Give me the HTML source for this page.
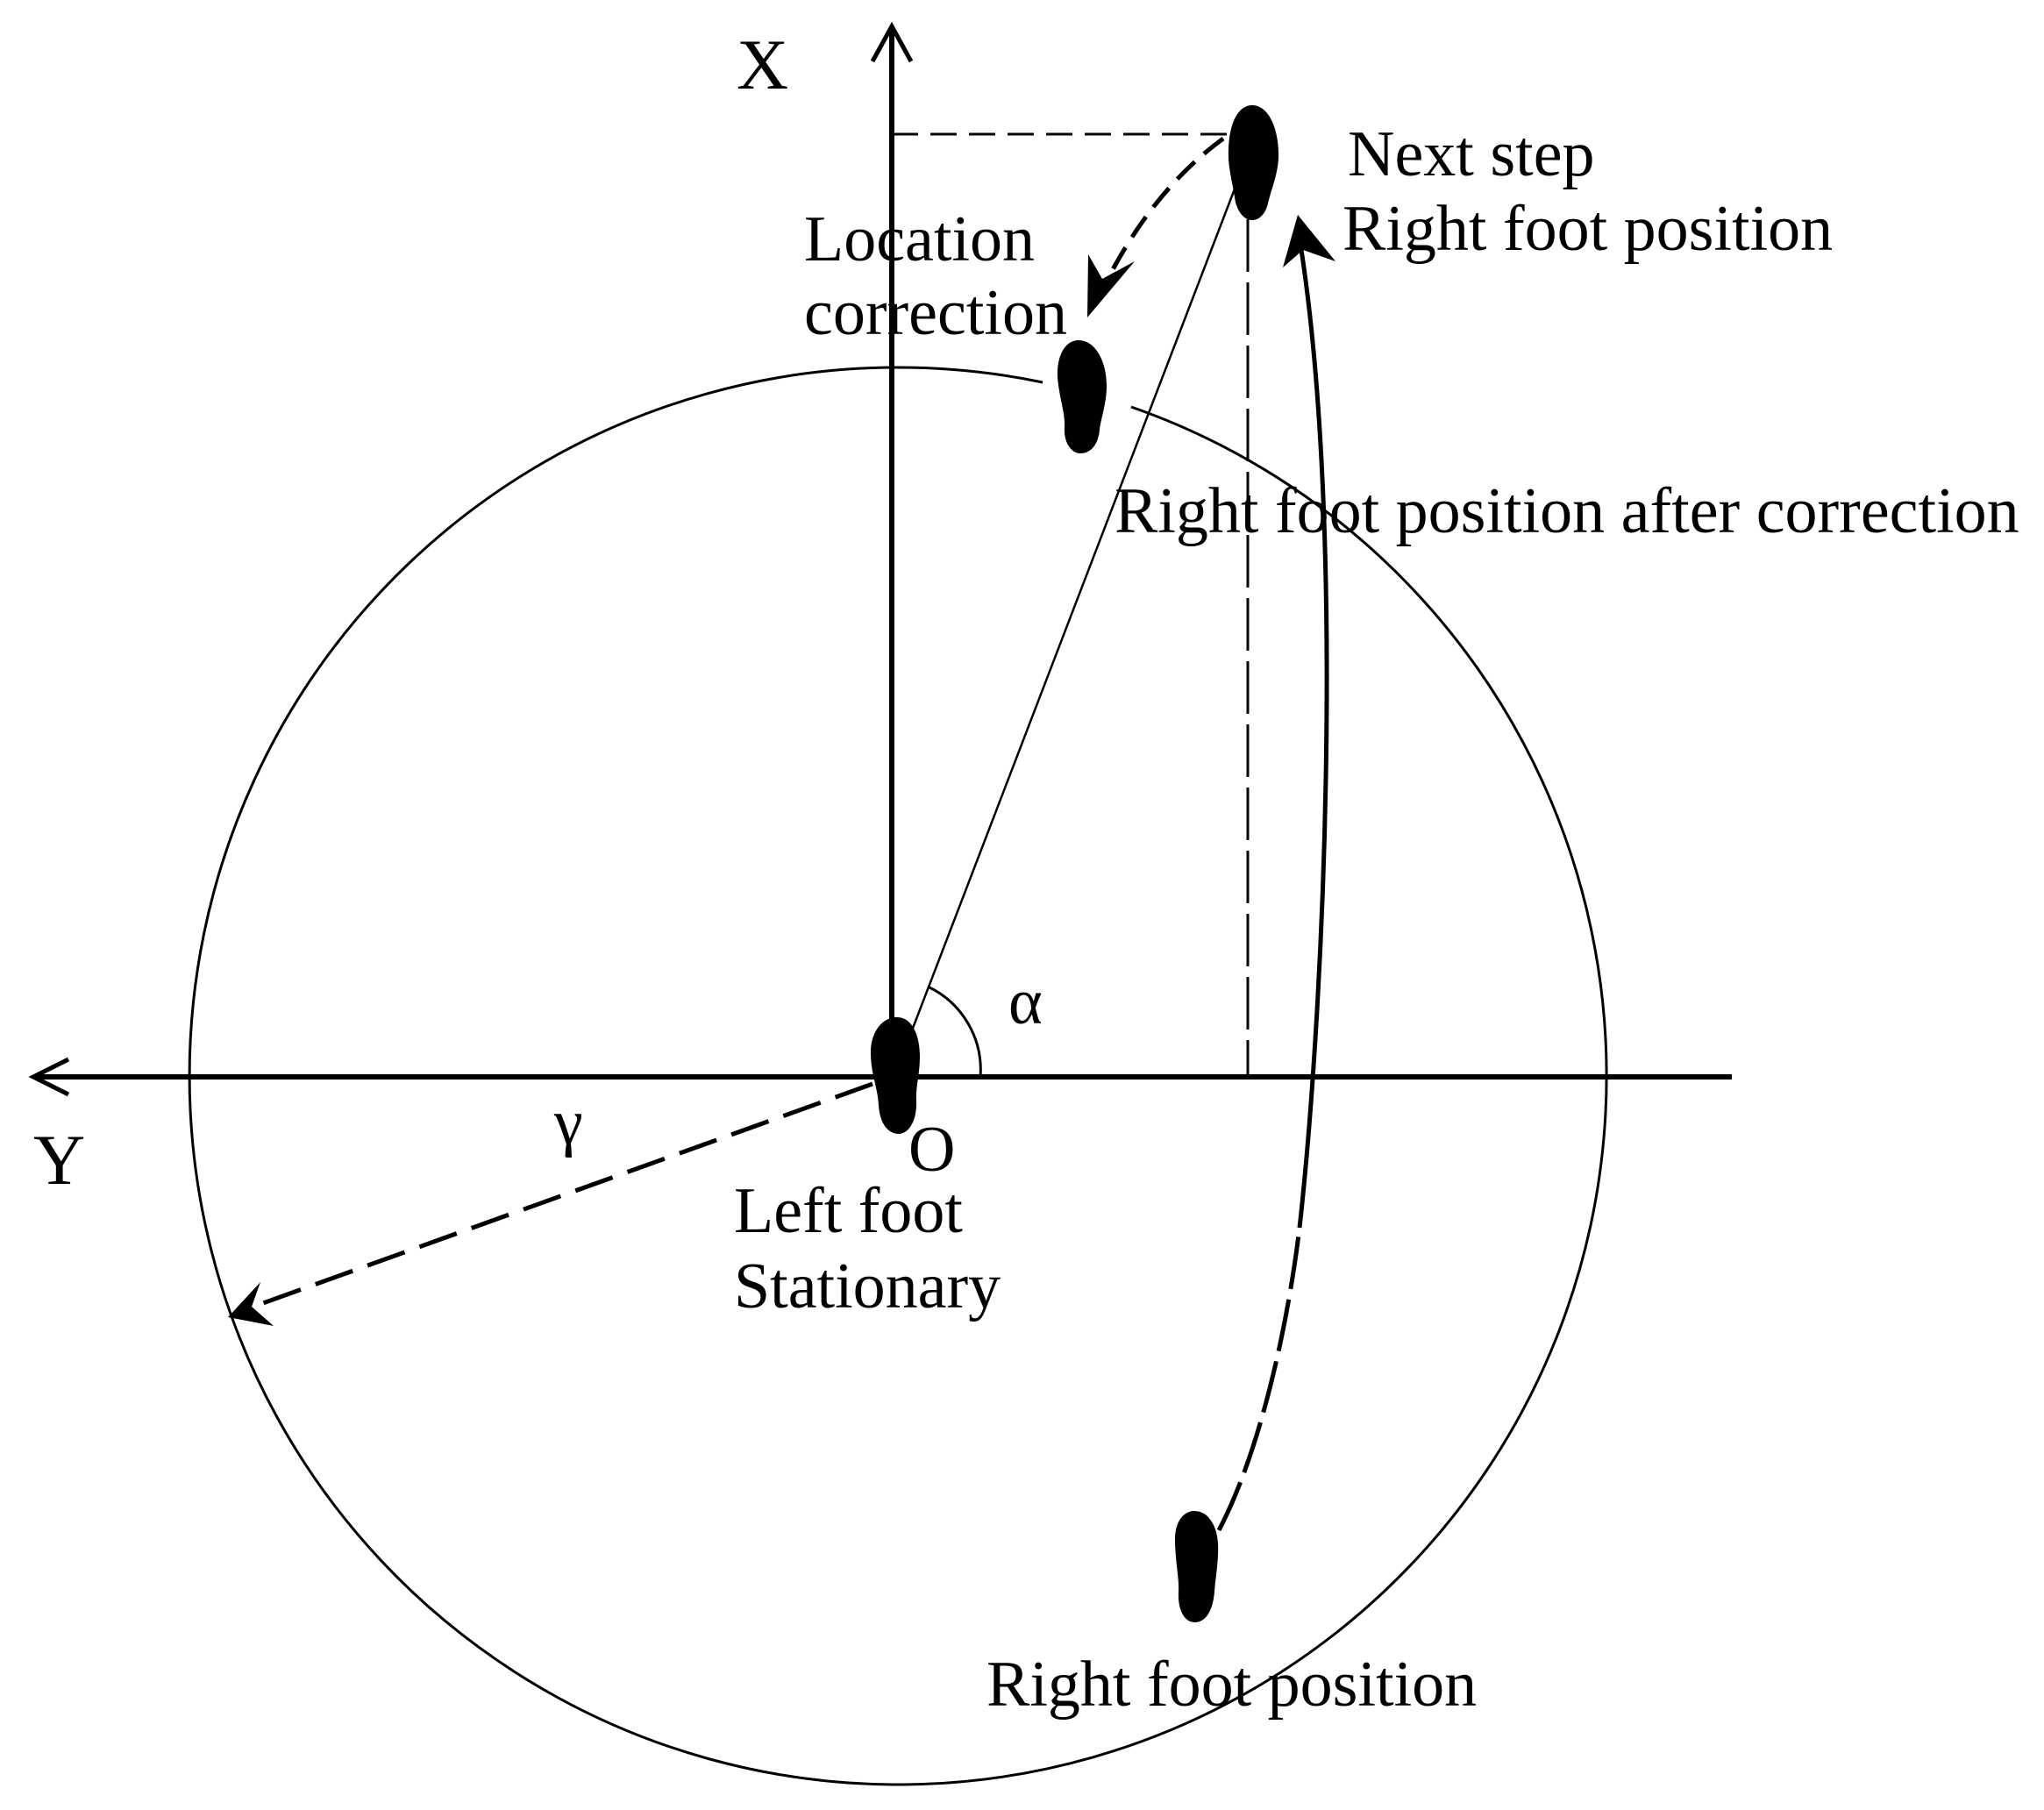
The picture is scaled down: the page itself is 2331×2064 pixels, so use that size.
<!DOCTYPE html>
<html><head><meta charset="utf-8"><style>
html,body{margin:0;padding:0;background:#fff;}
svg{display:block;}
text{font-family:"Liberation Serif",serif;fill:#000;font-size:74px;}
</style></head><body>
<svg width="2331" height="2064" viewBox="0 0 2331 2064" xmlns="http://www.w3.org/2000/svg">
<!-- circle with gap at top -->
<path d="M1189,436 A808,808 0 1 0 1290,464" fill="none" stroke="#000" stroke-width="3"/>
<!-- axes -->
<line x1="1017" y1="34" x2="1017" y2="1228" stroke="#000" stroke-width="6"/>
<polyline points="995,70 1017,30 1039,70" fill="none" stroke="#000" stroke-width="5"/>
<line x1="38" y1="1228" x2="1975" y2="1228" stroke="#000" stroke-width="6"/>
<polyline points="78,1208 38,1228 78,1248" fill="none" stroke="#000" stroke-width="5"/>
<!-- dashed projections -->
<line x1="1017" y1="153" x2="1405" y2="153" stroke="#000" stroke-width="3" stroke-dasharray="30,14"/>
<line x1="1423" y1="250" x2="1423" y2="1228" stroke="#000" stroke-width="3" stroke-dasharray="60,12"/>
<!-- thin line O to next step -->
<line x1="1040" y1="1175" x2="1412" y2="205" stroke="#000" stroke-width="2.5"/>
<!-- alpha arc -->
<path d="M1058,1125 A105,105 0 0 1 1118,1228" fill="none" stroke="#000" stroke-width="3"/>
<!-- location correction dashed curve -->
<path d="M1395,158 Q1310,220 1255,335" fill="none" stroke="#000" stroke-width="5" stroke-dasharray="28,14"/>
<polygon points="1240,362 1241,290 1257,318 1294,298" fill="#000"/>
<!-- big curved arrow -->
<path d="M1390,1745 C1440,1650 1470,1500 1482,1400" fill="none" stroke="#000" stroke-width="5" stroke-dasharray="60,12"/>
<path d="M1482,1400 C1510,1150 1535,600 1482,272" fill="none" stroke="#000" stroke-width="5"/>
<polygon points="1480,245 1463,305 1486,285 1523,298" fill="#000"/>
<!-- gamma dashed arrow -->
<line x1="995" y1="1236" x2="275" y2="1495" stroke="#000" stroke-width="5" stroke-dasharray="45,18"/>
<polygon points="260,1502 297,1462 287,1490 312,1512" fill="#000"/>
<!-- feet -->
<g fill="#000">
<path d="M1428,120 C1448,120 1459,150 1458,180 C1457,200 1450,215 1446,232 C1442,248 1433,251 1428,251 C1418,251 1410,240 1408,225 C1405,205 1400,190 1401,170 C1402,140 1412,120 1428,120Z"/>
<path d="M1230,388 C1248,388 1262,410 1262,440 C1262,460 1256,475 1254,490 C1252,510 1242,517 1232,517 C1222,517 1213,505 1214,488 C1215,470 1208,455 1206,430 C1205,405 1215,388 1230,388Z"/>
<path d="M1023,1160 C1040,1160 1049,1180 1049,1205 C1049,1225 1044,1240 1045,1255 C1046,1280 1035,1293 1025,1293 C1012,1293 1003,1280 1002,1260 C1001,1240 993,1225 993,1200 C993,1178 1005,1160 1023,1160Z"/>
<path d="M1362,1723 C1378,1723 1388,1740 1389,1760 C1390,1780 1386,1800 1385,1815 C1383,1840 1373,1850 1363,1850 C1350,1850 1343,1835 1344,1815 C1345,1800 1340,1780 1340,1755 C1340,1735 1350,1723 1362,1723Z"/>
</g>
<!-- labels -->
<text x="840" y="101" style="font-size:82px">X</text>
<text x="38" y="1350" style="font-size:82px">Y</text>
<text x="1036" y="1335">O</text>
<text x="1150" y="1167">α</text>
<text x="632" y="1304">γ</text>
<text x="1537" y="200">Next step</text>
<text x="1531" y="285">Right foot position</text>
<text x="917" y="297">Location</text>
<text x="917" y="381">correction</text>
<text x="1271" y="607">Right foot position after correction</text>
<text x="837" y="1405">Left foot</text>
<text x="837" y="1491">Stationary</text>
<text x="1125" y="1945">Right foot position</text>
</svg>
</body></html>
